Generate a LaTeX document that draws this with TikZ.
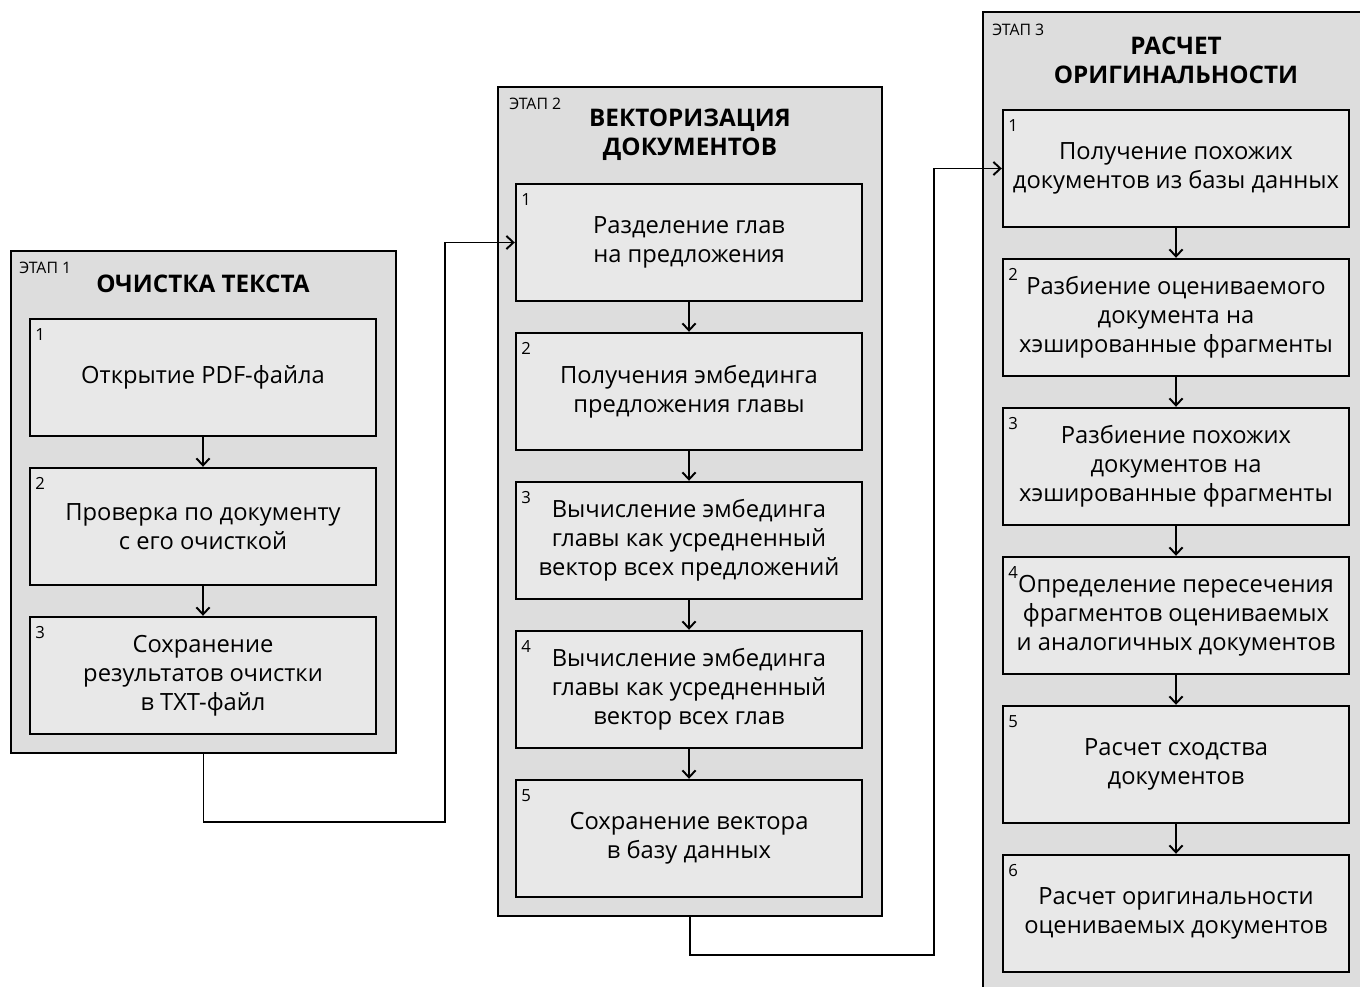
\documentclass[tikz,border=0pt]{standalone}
\usepackage{fontspec}
\setmainfont{Open Sans}
\usetikzlibrary{arrows.meta}

\tikzset{
  stage/.style={draw,line width=1.4pt,fill=gray!27,inner sep=0pt},
  stepbox/.style={draw,line width=1.4pt,fill=gray!18,minimum width=6.92cm,minimum height=2.34cm,
    align=center,inner sep=0pt,font=\fontsize{13.5}{16.5}\selectfont},
  num/.style={font=\fontsize{9.5}{10}\selectfont,inner sep=0pt,anchor=north west,xshift=3.5pt,yshift=-6pt},
  nb/.style={label={[num]north west:#1}},
  ttl/.style={font=\fontsize{13.8}{16.5}\selectfont\bfseries,align=center},
  etap/.style={font=\fontsize{9}{10}\selectfont,anchor=west,inner sep=0pt},
  link/.style={line width=1.1pt,-{Straight Barb[length=4pt,width=7.5pt]}},
}

\begin{document}
\begin{tikzpicture}[x=0.02cm,y=-0.02cm]
    \useasboundingbox[fill=white] (0,0) rectangle (1360,987);

    % stage 1
    \node[stage,minimum width=7.7cm,minimum height=10.04cm] (s1) at (203.5,502) {};
    \node[etap] (e1) at (19,268) {ЭТАП 1};
    \node[ttl] (t1) at (203,284) {ОЧИСТКА ТЕКСТА};
    \node[stepbox,nb=1] (b11) at (203,377.5) {Открытие PDF-файла};
    \node[stepbox,nb=2] (b12) at (203,526.5) {Проверка по документу\\с его очисткой};
    \node[stepbox,nb=3] (b13) at (203,675.5) {Сохранение\\результатов очистки\\в TXT-файл};
    \draw[link] (b11) -- (b12);
    \draw[link] (b12) -- (b13);

    % stage 2
    \node[stage,minimum width=7.68cm,minimum height=16.58cm] (s2) at (690,501.5) {};
    \node[etap] (e2) at (509,104) {ЭТАП 2};
    \node[ttl] (t2) at (690,134.5) {ВЕКТОРИЗАЦИЯ\\ДОКУМЕНТОВ};
    \node[stepbox,nb=1] (b21) at (689,242.5) {Разделение глав\\на предложения};
    \node[stepbox,nb=2] (b22) at (689,391.5) {Получения эмбединга\\предложения главы};
    \node[stepbox,nb=3] (b23) at (689,540.5) {Вычисление эмбединга\\главы как усредненный\\вектор всех предложений};
    \node[stepbox,nb=4] (b24) at (689,689.5) {Вычисление эмбединга\\главы как усредненный\\вектор всех глав};
    \node[stepbox,nb=5] (b25) at (689,838.5) {Сохранение вектора\\в базу данных};
    \draw[link] (b21) -- (b22);
    \draw[link] (b22) -- (b23);
    \draw[link] (b23) -- (b24);
    \draw[link] (b24) -- (b25);

    % stage 3 (runs past the page edge)
    \node[stage,minimum width=7.94cm,minimum height=19.96cm] (s3) at (1181.5,511) {};
    \node[etap] (e3) at (992,30) {ЭТАП 3};
    \node[ttl] (t3) at (1176,60) {РАСЧЕТ\\ОРИГИНАЛЬНОСТИ};
    \node[stepbox,nb=1] (b31) at (1176,168.5) {Получение похожих\\документов из базы данных};
    \node[stepbox,nb=2] (b32) at (1176,317.5) {Разбиение оцениваемого\\документа на\\хэшированные фрагменты};
    \node[stepbox,nb=3] (b33) at (1176,466.5) {Разбиение похожих\\документов на\\хэшированные фрагменты};
    \node[stepbox,nb=4] (b34) at (1176,615.5) {Определение пересечения\\фрагментов оцениваемых\\и аналогичных документов};
    \node[stepbox,nb=5] (b35) at (1176,764.5) {Расчет сходства\\документов};
    \node[stepbox,nb=6] (b36) at (1176,913.5) {Расчет оригинальности\\оцениваемых документов};
    \draw[link] (b31) -- (b32);
    \draw[link] (b32) -- (b33);
    \draw[link] (b33) -- (b34);
    \draw[link] (b34) -- (b35);
    \draw[link] (b35) -- (b36);

    % between stages
    \draw[link] (s1.south) |- (445,822) |- (b21.west);
    \draw[link] (s2.south) |- (934,955) |- (b31.west);
\end{tikzpicture}
\end{document}
